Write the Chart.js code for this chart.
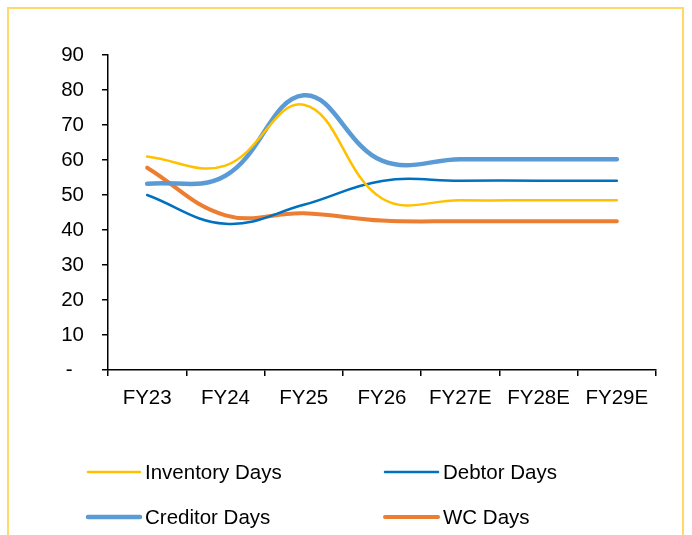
<!DOCTYPE html>
<html>
<head>
<meta charset="utf-8">
<script src="https://cdn.jsdelivr.net/npm/chart.js@4/dist/chart.umd.min.js"></script>
<style>
  html, body { margin: 0; padding: 0; background: #fff; }
  #wrap { position: relative; width: 692px; height: 535px; overflow: hidden; }
  #frame {
    position: absolute; left: 7px; top: 7px; width: 677px; height: 560px;
    border: 2px solid #FFD966; border-bottom: none; box-sizing: border-box;
  }
  canvas { position: absolute; left: 0; top: 0; }
</style>
</head>
<body>
<div id="wrap">
  <div id="frame"></div>
  <canvas id="c" width="692" height="535"></canvas>
</div>
<script>
// Working capital cycle, in days
const years = ['FY23', 'FY24', 'FY25', 'FY26', 'FY27E', 'FY28E', 'FY29E'];
const inventoryDays = [61.0, 58.4, 75.8, 49.0, 48.5, 48.5, 48.5];
const debtorDays    = [50.0, 41.8, 47.2, 54.0, 54.1, 54.1, 54.1];
const creditorDays  = [53.2, 55.5, 78.5, 59.8, 60.2, 60.2, 60.2];
const wcDays        = [57.8, 44.2, 44.8, 42.7, 42.5, 42.5, 42.5];
const yTicks = [0, 10, 20, 30, 40, 50, 60, 70, 80, 90];

const FONT = '"Liberation Sans", Arial, sans-serif';

function series(label, data, color, width) {
  return {
    label, data,
    borderColor: color, backgroundColor: color,
    borderWidth: width, borderCapStyle: 'round', borderJoinStyle: 'round',
    pointRadius: 0, pointHoverRadius: 0, fill: false, tension: 0.4
  };
}

// Two-column legend under the plot
const legendGrid = {
  id: 'legendGrid',
  afterDraw(chart) {
    const ctx = chart.ctx;
    const cols = [{ x0: 88, x1: 140, tx: 145 }, { x0: 385, x1: 438, tx: 443 }];
    const rows = [472, 517];
    ctx.save();
    ctx.font = '20.5px ' + FONT;
    ctx.textBaseline = 'middle';
    ctx.textAlign = 'left';
    chart.data.datasets.forEach((ds, i) => {
      const c = cols[i % 2], y = rows[Math.floor(i / 2)];
      ctx.strokeStyle = ds.borderColor;
      ctx.lineWidth = ds.borderWidth;
      ctx.lineCap = 'round';
      ctx.beginPath();
      ctx.moveTo(c.x0, y);
      ctx.lineTo(c.x1, y);
      ctx.stroke();
      ctx.fillStyle = '#000';
      ctx.fillText(ds.label, c.tx, y + 1);
    });
    ctx.restore();
  }
};

new Chart(document.getElementById('c'), {
  type: 'line',
  data: {
    labels: years,
    datasets: [
      series('Inventory Days', inventoryDays, '#FFC000', 2.5),
      series('Debtor Days', debtorDays, '#0070C0', 2.5),
      series('Creditor Days', creditorDays, '#5B9BD5', 4.5),
      series('WC Days', wcDays, '#ED7D31', 4)
    ]
  },
  options: {
    responsive: false,
    animation: false,
    devicePixelRatio: 1,
    layout: { padding: { left: 0, right: 36, top: 55, bottom: 0 } },
    plugins: { legend: { display: false }, tooltip: { enabled: false } },
    scales: {
      x: {
        type: 'category',
        offset: true,
        afterFit(s) { s.height = 165; },
        grid: {
          offset: true, drawOnChartArea: false, drawTicks: true,
          tickLength: 6, color: '#000', lineWidth: 1.5
        },
        border: { display: true, color: '#000', width: 1.5 },
        ticks: { color: '#000', font: { family: FONT, size: 20.5 }, padding: 10, maxRotation: 0, autoSkip: false }
      },
      y: {
        min: 0, max: 90,
        afterFit(s) { s.width = 108; },
        afterBuildTicks(s) { s.ticks = yTicks.map(v => ({ value: v })); },
        grid: {
          drawOnChartArea: false, drawTicks: true,
          tickLength: 6, color: '#000', lineWidth: 1.5
        },
        border: { display: true, color: '#000', width: 1.5 },
        ticks: {
          color: '#000', font: { family: FONT, size: 20.5 }, padding: 18,
          callback: v => (v === 0 ? '-  ' : String(v))
        }
      }
    }
  },
  plugins: [legendGrid]
});
</script>
</body>
</html>
